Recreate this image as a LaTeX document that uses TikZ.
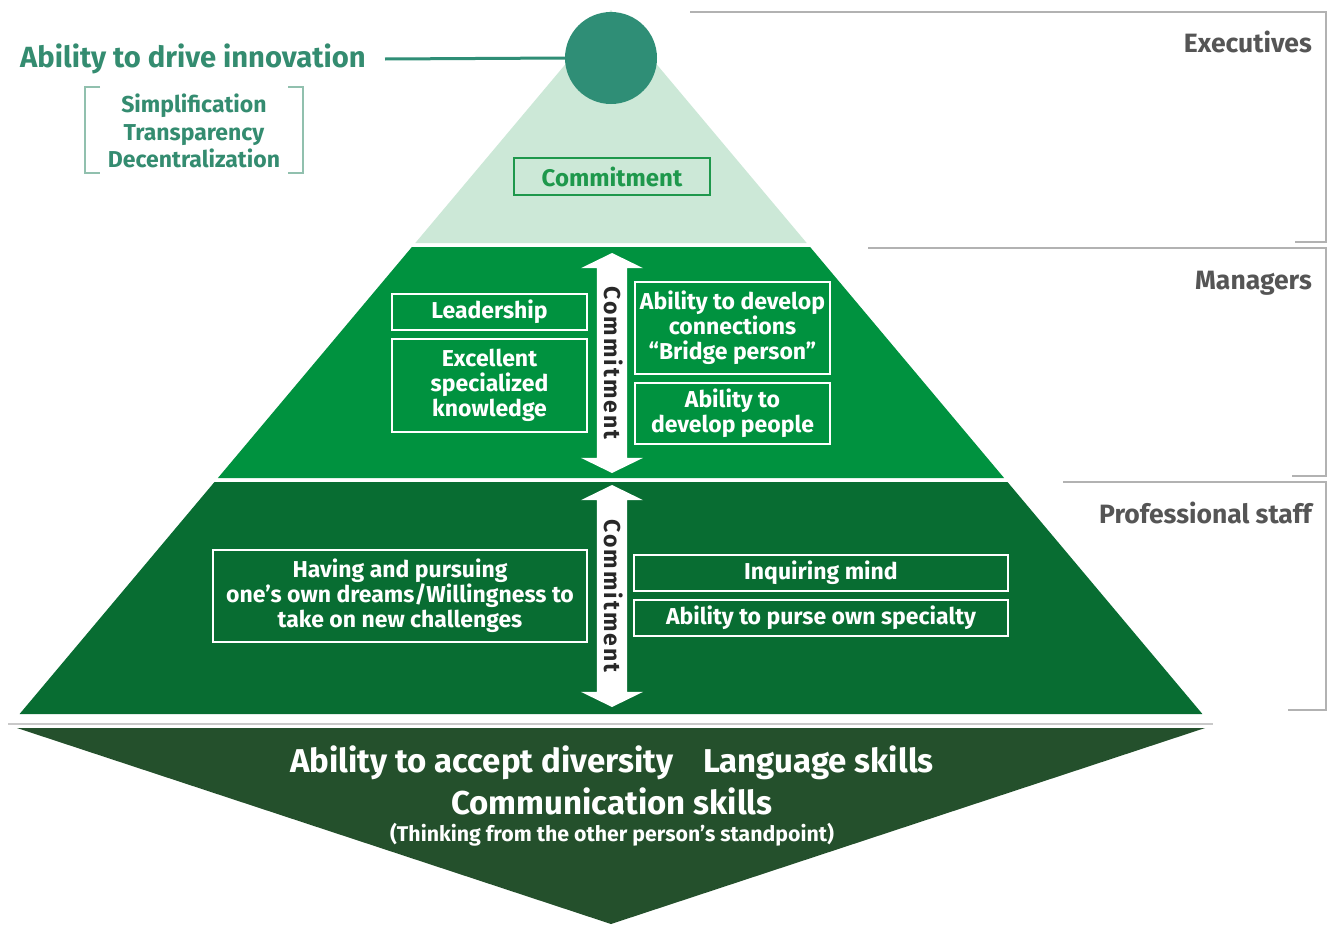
\documentclass[tikz,border=0pt]{standalone}
\usepackage{fontspec}
\setmainfont{Fira Sans}
\usetikzlibrary{shapes.arrows}
\definecolor{circ}{RGB}{47,142,118}
\definecolor{titlec}{RGB}{52,140,112}
\definecolor{brkline}{RGB}{145,192,174}
\definecolor{lightband}{RGB}{204,232,215}
\definecolor{midband}{RGB}{0,146,63}
\definecolor{lowband}{RGB}{8,109,50}
\definecolor{baseband}{RGB}{36,80,44}
\definecolor{commitc}{RGB}{30,152,76}
\definecolor{tierline}{RGB}{178,178,178}
\definecolor{tiertext}{RGB}{85,85,85}
\definecolor{arrowtext}{RGB}{40,40,40}
\newcommand{\fsz}[2]{\fontsize{#1}{#2}\selectfont\bfseries}
\tikzset{
  wbox/.style={draw=white, line width=1.3pt, text=white, align=center, inner sep=0pt, font=\fsz{23}{25}},
  tierlabel/.style={anchor=base east, text=tiertext, inner sep=0pt, font=\fsz{26.5}{30}},
  tierrule/.style={draw=tierline, line width=2.5pt},
  commitarrow/.style={double arrow, fill=white, rotate=-90, text=arrowtext,
    double arrow head extend=16pt, double arrow tip angle=128,
    inner xsep=0pt, inner ysep=7.5pt, text height=15pt, text depth=0pt,
    font=\fsz{23}{25}\addfontfeature{LetterSpace=9}},
  basetext/.style={text=white, anchor=base}
}
\begin{document}
\begin{tikzpicture}[x=1pt,y=-1pt]
\useasboundingbox (0,0) rectangle (1328,924);
\fill[white] (0,0) rectangle (1328,924);

% tier brackets on the right
\draw[tierrule] (690,12) -- (1326,12) -- (1326,242) -- (1295,242);
\draw[tierrule] (868,248) -- (1326,248) -- (1326,476) -- (1292,476);
\draw[tierrule] (1063,482) -- (1326,482) -- (1326,710) -- (1288,710);
\node[tierlabel] (exec) at (1312,52) {Executives};
\node[tierlabel] (mgr) at (1312,289) {Managers};
\node[tierlabel] (prof) at (1312,523) {Professional staff};

% pyramid bands
\fill[lightband] (611,10) -- (806.7,243) -- (415.3,243) -- cycle;
\fill[midband] (411.9,247) -- (810.1,247) -- (1004.1,478) -- (217.9,478) -- cycle;
\fill[lowband] (214.5,482) -- (1007.5,482) -- (1202.4,714) -- (19.6,714) -- cycle;
\draw[draw=tierline!70, line width=1.5pt] (8,724) -- (1213,724);
\fill[baseband] (17,728) -- (1205,728) -- (611,924) -- cycle;

% apex and title
\node[circle, fill=circ, minimum size=92pt, inner sep=0pt] (apex) at (611,58) {};
\node[anchor=base west, text=titlec, font=\fsz{29.2}{34}, inner sep=0pt] (title) at (20,67) {Ability to drive innovation};
\coordinate (tl) at (385,59);
\draw[circ, line width=3pt] (tl) -- (apex.west);

% bracket
\draw[brkline, line width=2pt] (100,87) -- (85,87) -- (85,173) -- (100,173);
\draw[brkline, line width=2pt] (288,87) -- (303,87) -- (303,173) -- (288,173);
\node[text=titlec, align=center, font=\fsz{23}{27.5}, inner sep=0pt] (brk) at (194,131) {Simplification\\Transparency\\Decentralization};

% top band
\node[draw=commitc, line width=1.3pt, text=commitc, font=\fsz{24}{25}, minimum width=196pt, minimum height=37pt, inner sep=0pt] (ctop) at (612,176.5) {Commitment};

% middle band
\node[wbox, minimum width=195pt, minimum height=36pt] (lead) at (489.5,312) {Leadership};
\node[wbox, minimum width=195pt, minimum height=93pt] (excel) at (489.5,385.5) {Excellent\\specialized\\knowledge};
\node[wbox, minimum width=195pt, minimum height=92pt] (conn) at (732.5,328) {Ability to develop\\connections\\“Bridge person”};
\node[wbox, minimum width=195pt, minimum height=61pt] (people) at (732.5,413.5) {Ability to\\develop people};
\node[commitarrow, minimum height=220pt] (arr1) at (612,363) {Commitment};

% lower band
\node[wbox, minimum width=374pt, minimum height=92pt] (dream) at (400,596) {Having and pursuing\\one’s own dreams/Willingness to\\take on new challenges};
\node[wbox, minimum width=374pt, minimum height=36pt] (inq) at (821,573) {Inquiring mind};
\node[wbox, minimum width=374pt, minimum height=36pt] (spec) at (821,618) {Ability to purse own specialty};
\node[commitarrow, minimum height=222pt] (arr2) at (612,596) {Commitment};

% base
\node[basetext, font=\fsz{33}{36}] (b1) at (612,772) {Ability to accept diversity\hspace{30pt}Language skills};
\node[basetext, font=\fsz{33}{36}] (b2) at (612,814) {Communication skills};
\node[basetext, font=\fsz{21.3}{24}] (b3) at (612,841) {(Thinking from the other person’s standpoint)};
\end{tikzpicture}
\end{document}
